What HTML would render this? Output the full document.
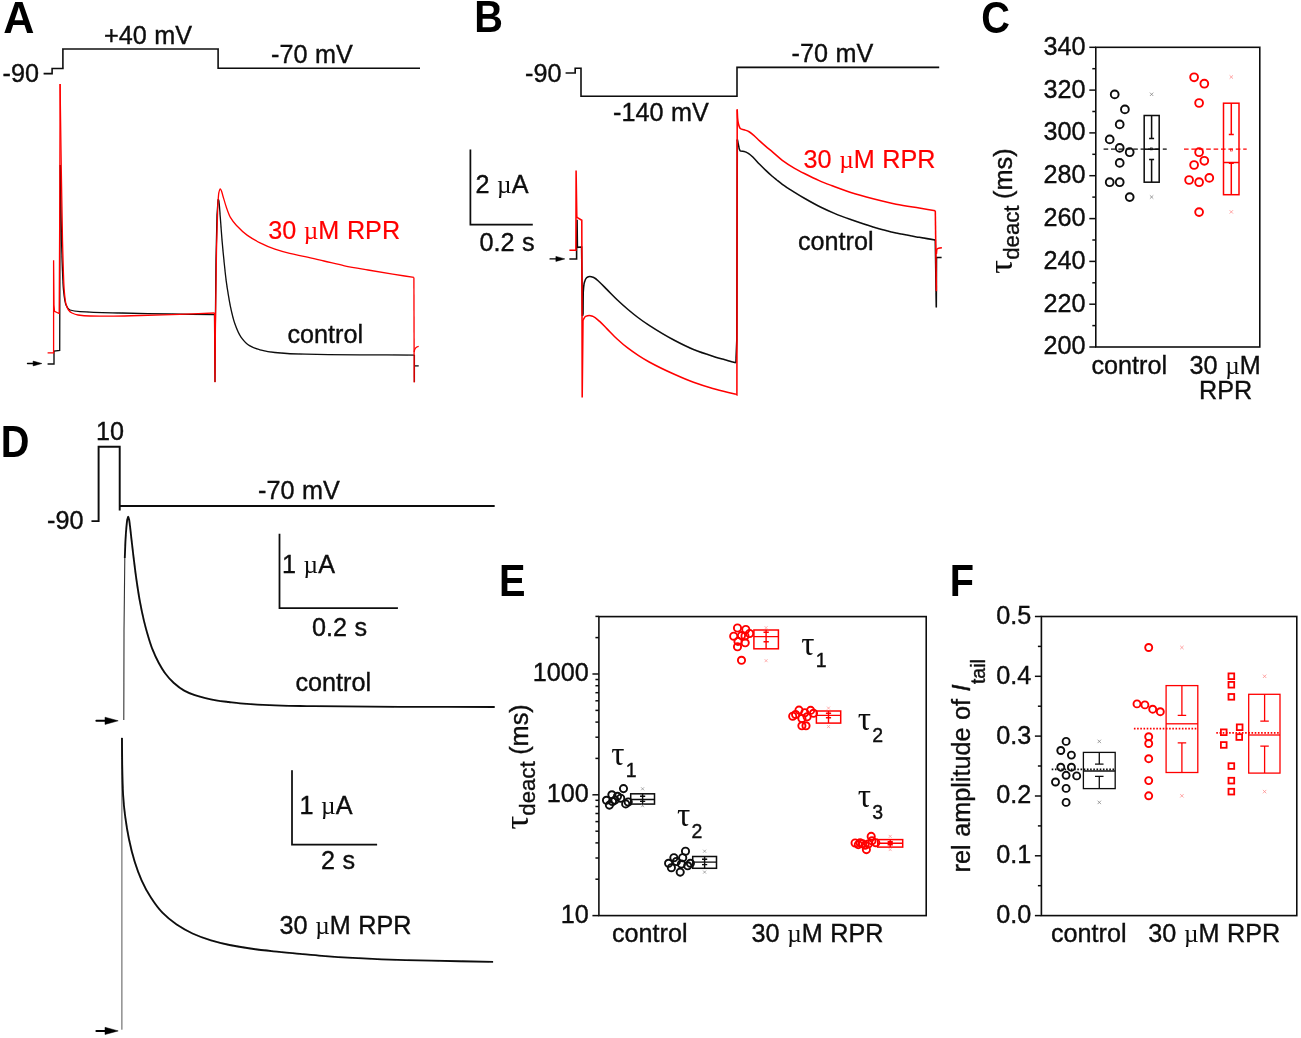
<!DOCTYPE html>
<html><head><meta charset="utf-8"><title>Figure</title>
<style>
html,body{margin:0;padding:0;background:#fff;}
svg{display:block;}
text{font-family:"Liberation Sans",sans-serif;stroke-width:0.35px;paint-order:stroke;word-spacing:0.6px;}
.sy{font-family:"Liberation Serif",serif;stroke-width:0;}
</style></head><body>
<svg width="1301" height="1038" viewBox="0 0 1301 1038">
<defs><filter id="soft" x="0" y="0" width="1301" height="1038" filterUnits="userSpaceOnUse"><feGaussianBlur stdDeviation="0.4"/></filter></defs>
<rect width="1301" height="1038" fill="#ffffff"/>
<g filter="url(#soft)">
<text transform="translate(3.30 32.60) scale(1.000 1.045)" font-size="43.2" font-weight="bold" fill="#000">A</text>
<text transform="translate(474.24 32.30) scale(0.920 1.045)" font-size="43.2" font-weight="bold" fill="#000">B</text>
<text transform="translate(981.26 32.50) scale(0.920 1.045)" font-size="43.2" font-weight="bold" fill="#000">C</text>
<text transform="translate(0.84 457.40) scale(0.920 1.045)" font-size="43.2" font-weight="bold" fill="#000">D</text>
<text transform="translate(499.04 596.30) scale(0.920 1.045)" font-size="43.2" font-weight="bold" fill="#000">E</text>
<text transform="translate(949.84 596.30) scale(0.920 1.045)" font-size="43.2" font-weight="bold" fill="#000">F</text>
<path d="M43.6 73.6 L52.1 73.6 L52.1 68.5 L62.9 68.5 L62.9 49.0 L218.1 49.0 L218.1 68.2 L420.0 68.2" fill="none" stroke="#0a0a0a" stroke-width="1.6" />
<text x="2.5" y="82.2" font-size="25.2" fill="#0a0a0a" stroke="#0a0a0a" text-anchor="start" font-weight="normal" >-90</text>
<text x="104.0" y="44.2" font-size="25.2" fill="#0a0a0a" stroke="#0a0a0a" text-anchor="start" font-weight="normal" >+40 mV</text>
<text x="271.0" y="63.4" font-size="25.2" fill="#0a0a0a" stroke="#0a0a0a" text-anchor="start" font-weight="normal" >-70 mV</text>
<text x="268.2" y="239.2" font-size="25.2" fill="#ff0000" stroke="#ff0000" text-anchor="start" font-weight="normal"  style="stroke-width:0.2px">30 <tspan class="sy">µ</tspan>M RPR</text>
<text x="287.5" y="342.8" font-size="25.2" fill="#0a0a0a" stroke="#0a0a0a" text-anchor="start" font-weight="normal" >control</text>
<path d="M27.5 363.5 L34.1 363.5" stroke="#000" stroke-width="1.36" stroke-linecap="round" fill="none"/>
<path d="M41.9 363.5 L33.1 361.1 L33.1 365.9 Z" fill="#000" stroke="#000" stroke-width="0.5" stroke-linejoin="round"/>
<path d="M47.6 364.0 L54.0 364.0 L54.0 351.0 L59.7 350.5 L59.9 250.0 L60.3 165.0" fill="none" stroke="#0a0a0a" stroke-width="1.3" />
<path d="M60.30 165.00 C60.70 190.00 61.10 225.19 61.50 240.00 C62.17 264.69 62.83 283.40 63.50 290.00 C64.33 298.25 65.17 303.18 66.00 305.00 C67.33 307.91 68.67 309.57 70.00 310.00 C73.33 311.06 76.67 311.38 80.00 311.60 C93.33 312.48 106.67 312.66 120.00 313.00 C136.67 313.43 153.33 313.71 170.00 314.00 C184.83 314.26 199.67 314.47 214.50 314.70" fill="none" stroke="#0a0a0a" stroke-width="1.3" />
<path d="M214.5 314.7 L215.0 382.0 L215.3 330.0 L216.0 260.0 L217.0 215.0 L218.1 199.4" fill="none" stroke="#0a0a0a" stroke-width="1.3" />
<path d="M218.30 199.40 C218.47 199.73 218.63 199.89 218.80 200.40 C219.30 201.92 219.80 211.30 220.30 217.40 C220.83 223.91 221.37 232.28 221.90 238.60 C222.63 247.28 223.37 254.75 224.10 261.90 C224.80 268.73 225.50 275.57 226.20 280.90 C226.90 286.23 227.60 290.48 228.30 294.70 C229.00 298.92 229.70 303.11 230.40 306.40 C231.83 313.14 233.27 319.19 234.70 323.30 C236.80 329.32 238.90 334.16 241.00 337.10 C243.83 341.06 246.67 343.97 249.50 345.60 C253.03 347.64 256.57 348.90 260.10 349.80 C265.03 351.06 269.97 352.05 274.90 352.50 C284.93 353.42 294.97 354.00 305.00 354.20 C323.33 354.56 341.67 354.67 360.00 354.80 C378.13 354.93 396.27 355.00 414.40 355.10" fill="none" stroke="#0a0a0a" stroke-width="1.3" />
<path d="M414.4 355.1 L414.4 382.0 L414.4 365.8 L418.7 365.8" fill="none" stroke="#0a0a0a" stroke-width="1.3" />
<path d="M47.6 352.8 L53.6 352.8 L53.6 260.3 L54.0 305.0 L54.5 311.3 L59.2 313.5 L59.8 200.0 L60.1 84.0" fill="none" stroke="#ff0000" stroke-width="1.3" />
<path d="M60.10 84.00 C60.40 106.00 60.70 130.03 61.00 150.00 C61.50 183.28 62.00 220.12 62.50 240.00 C63.07 262.53 63.63 282.99 64.20 290.00 C64.80 297.42 65.40 301.73 66.00 304.00 C66.83 307.15 67.67 308.92 68.50 310.00 C69.67 311.51 70.83 312.42 72.00 313.00 C74.00 314.00 76.00 314.71 78.00 315.00 C82.00 315.57 86.00 315.92 90.00 316.00 C96.67 316.13 103.33 316.20 110.00 316.20 C120.00 316.20 130.00 315.76 140.00 315.50 C153.33 315.15 166.67 314.75 180.00 314.30 C191.53 313.91 203.07 313.43 214.60 313.00" fill="none" stroke="#ff0000" stroke-width="1.3" />
<path d="M214.6 313.0 L215.0 382.2 L215.4 330.0 L216.5 250.0 L217.8 205.0" fill="none" stroke="#ff0000" stroke-width="1.3" />
<path d="M217.80 205.00 C218.13 201.00 218.47 194.62 218.80 193.00 C219.28 190.66 219.77 188.80 220.25 188.80 C220.67 188.80 221.08 190.04 221.50 191.00 C222.00 192.16 222.50 194.50 223.00 196.20 C224.07 199.82 225.13 203.73 226.20 206.80 C227.60 210.84 229.00 214.93 230.40 217.40 C232.53 221.17 234.67 223.48 236.80 225.80 C240.33 229.64 243.87 232.88 247.40 235.40 C251.63 238.42 255.87 240.69 260.10 242.80 C265.03 245.26 269.97 247.51 274.90 249.20 C279.83 250.89 284.77 252.21 289.70 253.40 C294.80 254.63 299.90 255.48 305.00 256.60 C311.33 257.99 317.67 259.53 324.00 261.00 C330.83 262.59 337.67 264.41 344.50 265.80 C352.33 267.39 360.17 268.65 368.00 270.00 C376.23 271.42 384.47 272.78 392.70 274.10 C399.77 275.23 406.83 276.30 413.90 277.40" fill="none" stroke="#ff0000" stroke-width="1.3" />
<path d="M413.9 277.4 L414.2 382.4" fill="none" stroke="#ff0000" stroke-width="1.3" />
<path d="M414.2 352 Q414.5 347 418.7 346.3" fill="none" stroke="#ff0000" stroke-width="1.3" />
<path d="M565.6 73.0 L575.2 73.0 L575.2 68.2 L581.0 68.2 L581.0 96.3 L737.0 96.3 L737.0 67.4 L939.2 67.4" fill="none" stroke="#0a0a0a" stroke-width="1.6" />
<text x="525.0" y="81.7" font-size="25.2" fill="#0a0a0a" stroke="#0a0a0a" text-anchor="start" font-weight="normal" >-90</text>
<text x="791.5" y="61.6" font-size="25.2" fill="#0a0a0a" stroke="#0a0a0a" text-anchor="start" font-weight="normal" >-70 mV</text>
<text x="613.0" y="121.2" font-size="25.2" fill="#0a0a0a" stroke="#0a0a0a" text-anchor="start" font-weight="normal" >-140 mV</text>
<path d="M470.4 149.5 L470.4 224.6 L532.8 224.6" fill="none" stroke="#0a0a0a" stroke-width="1.7" />
<text x="475.5" y="192.6" font-size="25.2" fill="#0a0a0a" stroke="#0a0a0a" text-anchor="start" font-weight="normal" >2 <tspan class="sy">µ</tspan>A</text>
<text x="479.5" y="251.2" font-size="25.2" fill="#0a0a0a" stroke="#0a0a0a" text-anchor="start" font-weight="normal" >0.2 s</text>
<text x="803.5" y="167.6" font-size="25.2" fill="#ff0000" stroke="#ff0000" text-anchor="start" font-weight="normal"  style="stroke-width:0.2px">30 <tspan class="sy">µ</tspan>M RPR</text>
<text x="798.0" y="249.6" font-size="25.2" fill="#0a0a0a" stroke="#0a0a0a" text-anchor="start" font-weight="normal" >control</text>
<path d="M550.1 258.9 L556.9 258.9" stroke="#000" stroke-width="1.39" stroke-linecap="round" fill="none"/>
<path d="M564.8 258.9 L555.9 256.4 L555.9 261.4 Z" fill="#000" stroke="#000" stroke-width="0.5" stroke-linejoin="round"/>
<path d="M569.4 258.9 L576.6 258.9 L576.6 247.5 L577.1 219.8 L577.4 247.3 L581.6 247.0 L582.4 316.0 L583.0 314.8" fill="none" stroke="#0a0a0a" stroke-width="1.55" />
<path d="M583.00 314.80 C583.10 307.03 583.20 293.22 583.30 291.50 C583.70 284.63 584.10 283.33 584.50 282.00 C585.23 279.56 585.97 278.23 586.70 277.70 C587.73 276.96 588.77 276.40 589.80 276.40 C591.23 276.40 592.67 277.08 594.10 277.70 C595.87 278.47 597.63 280.43 599.40 282.00 C601.87 284.20 604.33 286.93 606.80 289.40 C610.33 292.93 613.87 296.66 617.40 300.00 C620.93 303.34 624.47 306.51 628.00 309.50 C631.53 312.49 635.07 315.36 638.60 318.00 C642.13 320.64 645.67 323.11 649.20 325.40 C657.57 330.83 665.93 335.88 674.30 340.30 C680.70 343.68 687.10 346.92 693.50 349.50 C699.93 352.09 706.37 354.18 712.80 356.20 C720.50 358.62 728.20 360.60 735.90 362.80" fill="none" stroke="#0a0a0a" stroke-width="1.55" />
<path d="M735.9 362.8 L736.8 340.0 L737.3 139.5" fill="none" stroke="#0a0a0a" stroke-width="1.55" />
<path d="M737.30 139.50 C737.67 141.20 738.03 142.87 738.40 144.60 C738.70 146.01 739.00 148.09 739.30 148.90 C739.70 149.98 740.10 151.03 740.50 151.10 C741.73 151.33 742.97 151.23 744.20 151.40 C745.83 151.62 747.47 152.75 749.10 153.80 C750.57 154.74 752.03 156.37 753.50 157.80 C755.53 159.79 757.57 162.22 759.60 164.30 C761.67 166.41 763.73 168.44 765.80 170.40 C767.83 172.33 769.87 174.25 771.90 176.00 C773.53 177.41 775.17 178.69 776.80 180.00 C778.63 181.46 780.47 182.98 782.30 184.30 C786.40 187.25 790.50 189.73 794.60 192.30 C798.30 194.62 802.00 196.88 805.70 199.00 C810.60 201.81 815.50 204.58 820.40 207.00 C825.27 209.40 830.13 211.61 835.00 213.60 C840.00 215.65 845.00 217.43 850.00 219.20 C857.70 221.92 865.40 224.63 873.10 226.90 C880.77 229.16 888.43 231.32 896.10 233.00 C903.80 234.68 911.50 235.95 919.20 237.30 C924.57 238.24 929.93 239.10 935.30 240.00" fill="none" stroke="#0a0a0a" stroke-width="1.55" />
<path d="M935.3 240.0 L936.3 307.4 L936.5 257.5 L941.6 257.5" fill="none" stroke="#0a0a0a" stroke-width="1.55" />
<path d="M569.4 250.3 L575.9 250.3 L576.1 170.5 L576.8 216.6 L577.5 217.8 L581.8 220.2 L582.2 397.6 L583.0 320.1" fill="none" stroke="#ff0000" stroke-width="1.55" />
<path d="M583.00 320.10 C583.87 318.87 584.73 316.81 585.60 316.40 C586.83 315.82 588.07 315.40 589.30 315.40 C590.53 315.40 591.77 315.93 593.00 316.40 C595.13 317.21 597.27 319.38 599.40 321.20 C601.87 323.31 604.33 326.13 606.80 328.60 C610.33 332.13 613.87 335.96 617.40 339.20 C620.93 342.44 624.47 345.49 628.00 348.20 C631.53 350.91 635.07 353.31 638.60 355.60 C642.13 357.89 645.67 360.06 649.20 362.00 C657.57 366.59 665.93 370.55 674.30 374.30 C680.70 377.17 687.10 379.98 693.50 382.30 C699.93 384.63 706.37 386.68 712.80 388.50 C720.50 390.68 728.20 392.37 735.90 394.30" fill="none" stroke="#ff0000" stroke-width="1.55" />
<path d="M735.9 394.3 L736.9 394.8 L737.2 109.4" fill="none" stroke="#ff0000" stroke-width="1.55" />
<path d="M737.20 109.40 C737.33 112.27 737.47 116.49 737.60 118.00 C737.87 121.02 738.13 122.69 738.40 123.70 C739.10 126.36 739.80 128.17 740.50 128.60 C741.73 129.35 742.97 129.37 744.20 129.80 C745.83 130.37 747.47 130.85 749.10 131.70 C750.57 132.46 752.03 133.86 753.50 135.10 C755.53 136.82 757.57 139.03 759.60 140.90 C761.67 142.80 763.73 144.64 765.80 146.40 C767.83 148.13 769.87 149.70 771.90 151.40 C775.37 154.30 778.83 157.73 782.30 160.30 C786.40 163.34 790.50 165.91 794.60 168.30 C797.87 170.20 801.13 171.85 804.40 173.50 C809.33 175.99 814.27 178.46 819.20 180.60 C823.30 182.38 827.40 183.93 831.50 185.50 C837.67 187.86 843.83 190.32 850.00 192.30 C857.70 194.77 865.40 196.83 873.10 198.80 C880.77 200.76 888.43 202.69 896.10 204.20 C903.80 205.71 911.50 206.83 919.20 208.10 C924.57 208.98 929.93 209.83 935.30 210.70" fill="none" stroke="#ff0000" stroke-width="1.55" />
<path d="M935.3 210.7 L936.4 291.2" fill="none" stroke="#ff0000" stroke-width="1.55" />
<path d="M936.4 254 L936.8 249.5 Q937.2 248.2 941.9 247.8" fill="none" stroke="#ff0000" stroke-width="1.55" />
<rect x="1095.8" y="47.3" width="164.0" height="299.7" fill="none" stroke="#111111" stroke-width="1.6"/>
<path d="M1089.3 47.3 L1095.8 47.3" fill="none" stroke="#111111" stroke-width="1.5" />
<text x="1085.6" y="54.7" font-size="25.2" fill="#0a0a0a" stroke="#0a0a0a" text-anchor="end" font-weight="normal" >340</text>
<path d="M1092.3 68.7 L1095.8 68.7" fill="none" stroke="#111111" stroke-width="1.5" />
<path d="M1089.3 90.1 L1095.8 90.1" fill="none" stroke="#111111" stroke-width="1.5" />
<text x="1085.6" y="97.5" font-size="25.2" fill="#0a0a0a" stroke="#0a0a0a" text-anchor="end" font-weight="normal" >320</text>
<path d="M1092.3 111.5 L1095.8 111.5" fill="none" stroke="#111111" stroke-width="1.5" />
<path d="M1089.3 132.9 L1095.8 132.9" fill="none" stroke="#111111" stroke-width="1.5" />
<text x="1085.6" y="140.3" font-size="25.2" fill="#0a0a0a" stroke="#0a0a0a" text-anchor="end" font-weight="normal" >300</text>
<path d="M1092.3 154.3 L1095.8 154.3" fill="none" stroke="#111111" stroke-width="1.5" />
<path d="M1089.3 175.7 L1095.8 175.7" fill="none" stroke="#111111" stroke-width="1.5" />
<text x="1085.6" y="183.1" font-size="25.2" fill="#0a0a0a" stroke="#0a0a0a" text-anchor="end" font-weight="normal" >280</text>
<path d="M1092.3 197.1 L1095.8 197.1" fill="none" stroke="#111111" stroke-width="1.5" />
<path d="M1089.3 218.6 L1095.8 218.6" fill="none" stroke="#111111" stroke-width="1.5" />
<text x="1085.6" y="226.0" font-size="25.2" fill="#0a0a0a" stroke="#0a0a0a" text-anchor="end" font-weight="normal" >260</text>
<path d="M1092.3 240.0 L1095.8 240.0" fill="none" stroke="#111111" stroke-width="1.5" />
<path d="M1089.3 261.4 L1095.8 261.4" fill="none" stroke="#111111" stroke-width="1.5" />
<text x="1085.6" y="268.8" font-size="25.2" fill="#0a0a0a" stroke="#0a0a0a" text-anchor="end" font-weight="normal" >240</text>
<path d="M1092.3 282.8 L1095.8 282.8" fill="none" stroke="#111111" stroke-width="1.5" />
<path d="M1089.3 304.2 L1095.8 304.2" fill="none" stroke="#111111" stroke-width="1.5" />
<text x="1085.6" y="311.6" font-size="25.2" fill="#0a0a0a" stroke="#0a0a0a" text-anchor="end" font-weight="normal" >220</text>
<path d="M1092.3 325.6 L1095.8 325.6" fill="none" stroke="#111111" stroke-width="1.5" />
<path d="M1089.3 347.0 L1095.8 347.0" fill="none" stroke="#111111" stroke-width="1.5" />
<text x="1085.6" y="354.4" font-size="25.2" fill="#0a0a0a" stroke="#0a0a0a" text-anchor="end" font-weight="normal" >200</text>
<path d="M1103.6 149.1 L1166.7 149.1" fill="none" stroke="#0a0a0a" stroke-width="1.4" stroke-dasharray="4.6 2.8"/>
<path d="M1184 149.1 L1246.7 149.1" fill="none" stroke="#ff0000" stroke-width="1.4" stroke-dasharray="4.6 2.8"/>
<circle cx="1114.7" cy="94.4" r="3.9" fill="none" stroke="#0a0a0a" stroke-width="1.9"/>
<circle cx="1124.9" cy="109.4" r="3.9" fill="none" stroke="#0a0a0a" stroke-width="1.9"/>
<circle cx="1119.7" cy="124.4" r="3.9" fill="none" stroke="#0a0a0a" stroke-width="1.9"/>
<circle cx="1109.7" cy="139.4" r="3.9" fill="none" stroke="#0a0a0a" stroke-width="1.9"/>
<circle cx="1119.7" cy="147.9" r="3.9" fill="none" stroke="#0a0a0a" stroke-width="1.9"/>
<circle cx="1129.7" cy="152.2" r="3.9" fill="none" stroke="#0a0a0a" stroke-width="1.9"/>
<circle cx="1119.7" cy="162.9" r="3.9" fill="none" stroke="#0a0a0a" stroke-width="1.9"/>
<circle cx="1109.7" cy="182.2" r="3.9" fill="none" stroke="#0a0a0a" stroke-width="1.9"/>
<circle cx="1119.7" cy="182.2" r="3.9" fill="none" stroke="#0a0a0a" stroke-width="1.9"/>
<circle cx="1129.7" cy="197.1" r="3.9" fill="none" stroke="#0a0a0a" stroke-width="1.9"/>
<circle cx="1194.1" cy="77.3" r="3.9" fill="none" stroke="#ff0000" stroke-width="1.9"/>
<circle cx="1204.3" cy="83.7" r="3.9" fill="none" stroke="#ff0000" stroke-width="1.9"/>
<circle cx="1199.1" cy="103.0" r="3.9" fill="none" stroke="#ff0000" stroke-width="1.9"/>
<circle cx="1199.1" cy="152.2" r="3.9" fill="none" stroke="#ff0000" stroke-width="1.9"/>
<circle cx="1204.3" cy="160.8" r="3.9" fill="none" stroke="#ff0000" stroke-width="1.9"/>
<circle cx="1194.1" cy="165.0" r="3.9" fill="none" stroke="#ff0000" stroke-width="1.9"/>
<circle cx="1189.1" cy="180.0" r="3.9" fill="none" stroke="#ff0000" stroke-width="1.9"/>
<circle cx="1199.1" cy="182.2" r="3.9" fill="none" stroke="#ff0000" stroke-width="1.9"/>
<circle cx="1209.3" cy="177.9" r="3.9" fill="none" stroke="#ff0000" stroke-width="1.9"/>
<circle cx="1199.1" cy="212.1" r="3.9" fill="none" stroke="#ff0000" stroke-width="1.9"/>
<rect x="1144.2" y="115.5" width="15.0" height="66.7" fill="none" stroke="#0a0a0a" stroke-width="1.5"/>
<path d="M1144.2 149.2 L1159.2 149.2" stroke="#0a0a0a" stroke-width="1.5"/>
<path d="M1151.6 115.5 L1151.6 138.5 M1149.1 138.5 L1154.1 138.5" stroke="#0a0a0a" stroke-width="1.5" fill="none"/>
<path d="M1151.6 182.2 L1151.6 159.5 M1149.1 159.5 L1154.1 159.5" stroke="#0a0a0a" stroke-width="1.5" fill="none"/>
<rect x="1150.6" y="147.9" width="2" height="2" fill="none" stroke="#0a0a0a" stroke-width="0.6"/>
<path d="M1149.9 92.6 L1153.3 96.0 M1149.9 96.0 L1153.3 92.6" stroke="#777" stroke-width="0.7" fill="none"/>
<path d="M1149.9 195.3 L1153.3 198.7 M1149.9 198.7 L1153.3 195.3" stroke="#777" stroke-width="0.7" fill="none"/>
<rect x="1223.5" y="103.2" width="15.5" height="91.5" fill="none" stroke="#ff0000" stroke-width="1.5"/>
<path d="M1223.5 162.5 L1239.0 162.5" stroke="#ff0000" stroke-width="1.5"/>
<path d="M1231.3 103.2 L1231.3 134.6 M1228.8 134.6 L1233.8 134.6" stroke="#ff0000" stroke-width="1.5" fill="none"/>
<path d="M1231.3 194.7 L1231.3 163.3 M1228.8 163.3 L1233.8 163.3" stroke="#ff0000" stroke-width="1.5" fill="none"/>
<rect x="1230.3" y="149.0" width="2" height="2" fill="none" stroke="#ff0000" stroke-width="0.6"/>
<path d="M1229.6 75.3 L1233.0 78.7 M1229.6 78.7 L1233.0 75.3" stroke="#ff8080" stroke-width="0.7" fill="none"/>
<path d="M1229.6 210.2 L1233.0 213.6 M1229.6 213.6 L1233.0 210.2" stroke="#ff8080" stroke-width="0.7" fill="none"/>
<text x="1091.5" y="373.6" font-size="25.2" fill="#0a0a0a" stroke="#0a0a0a" text-anchor="start" font-weight="normal" >control</text>
<text x="1189.5" y="373.6" font-size="25.2" fill="#0a0a0a" stroke="#0a0a0a" text-anchor="start" font-weight="normal" >30 <tspan class="sy">µ</tspan>M</text>
<text x="1199.0" y="399.1" font-size="25.2" fill="#0a0a0a" stroke="#0a0a0a" text-anchor="start" font-weight="normal" >RPR</text>
<text transform="translate(1011.8 211) rotate(-90)" text-anchor="middle" font-size="25.3" fill="#0a0a0a" stroke="#0a0a0a"><tspan class="sy" font-size="34.5">τ</tspan><tspan dy="7.4" font-size="22.2">deact</tspan><tspan dy="-7.4" dx="-1"> (ms)</tspan></text>
<path d="M91.5 521.1 L98.6 521.1 L98.6 446.7 L119.7 446.7 L119.7 510.5 L119.7 506.0 L494.7 506.0" fill="none" stroke="#0a0a0a" stroke-width="1.9" />
<text x="96.0" y="440.4" font-size="25.2" fill="#0a0a0a" stroke="#0a0a0a" text-anchor="start" font-weight="normal" >10</text>
<text x="47.0" y="528.8" font-size="25.2" fill="#0a0a0a" stroke="#0a0a0a" text-anchor="start" font-weight="normal" >-90</text>
<text x="258.0" y="498.6" font-size="25.2" fill="#0a0a0a" stroke="#0a0a0a" text-anchor="start" font-weight="normal" >-70 mV</text>
<path d="M279.5 533.7 L279.5 608.2 L397.9 608.2" fill="none" stroke="#0a0a0a" stroke-width="1.75" />
<text x="282.0" y="573.0" font-size="25.2" fill="#0a0a0a" stroke="#0a0a0a" text-anchor="start" font-weight="normal" >1 <tspan class="sy">µ</tspan>A</text>
<text x="312.0" y="635.6" font-size="25.2" fill="#0a0a0a" stroke="#0a0a0a" text-anchor="start" font-weight="normal" >0.2 s</text>
<text x="295.5" y="690.5" font-size="25.2" fill="#0a0a0a" stroke="#0a0a0a" text-anchor="start" font-weight="normal" >control</text>
<path d="M96.4 720.8 L106.0 720.8" stroke="#000" stroke-width="2.05" stroke-linecap="round" fill="none"/>
<path d="M118.2 720.8 L105.0 717.2 L105.0 724.4 Z" fill="#000" stroke="#000" stroke-width="0.5" stroke-linejoin="round"/>
<path d="M123.8 719.9 L124.0 632.0 L124.8 558.0" fill="none" stroke="#333" stroke-width="1.1" />
<path d="M124.80 558.00 C125.03 552.00 125.27 544.27 125.50 540.00 C125.83 533.90 126.17 529.64 126.50 526.20 C126.77 523.45 127.03 520.72 127.30 519.50 C127.60 518.13 127.90 516.70 128.20 516.70 C128.50 516.70 128.80 518.18 129.10 519.50 C129.40 520.82 129.70 523.79 130.00 526.20 C130.40 529.42 130.80 533.30 131.20 536.80 C131.90 542.93 132.60 549.12 133.30 555.00 C134.03 561.16 134.77 567.40 135.50 572.90 C136.20 578.15 136.90 582.93 137.60 587.50 C138.30 592.07 139.00 596.57 139.70 600.40 C141.10 608.06 142.50 614.74 143.90 620.60 C145.33 626.60 146.77 631.73 148.20 636.50 C149.60 641.16 151.00 645.63 152.40 649.20 C154.53 654.63 156.67 659.06 158.80 663.00 C160.90 666.88 163.00 670.40 165.10 673.20 C167.93 676.98 170.77 680.15 173.60 682.70 C177.13 685.88 180.67 688.66 184.20 690.60 C187.73 692.54 191.27 693.99 194.80 695.20 C198.33 696.41 201.87 697.38 205.40 698.20 C208.93 699.02 212.47 699.73 216.00 700.30 C220.27 700.98 224.53 701.47 228.80 702.00 C232.53 702.46 236.27 703.00 240.00 703.30 C251.67 704.25 263.33 704.91 275.00 705.30 C287.87 705.73 300.73 706.05 313.60 706.20 C342.40 706.53 371.20 706.71 400.00 706.80 C431.57 706.90 463.13 706.93 494.70 707.00" fill="none" stroke="#0a0a0a" stroke-width="1.85" />
<path d="M121.9 737.6 L121.9 1029.7" fill="none" stroke="#555" stroke-width="1.0" />
<path d="M121.97 738.10 C122.05 746.97 122.12 760.25 122.20 764.70 C122.50 782.13 122.80 789.66 123.10 794.70 C123.87 807.58 124.63 812.06 125.40 817.90 C126.57 826.78 127.73 833.04 128.90 838.70 C130.83 848.07 132.77 855.57 134.70 861.80 C137.00 869.21 139.30 875.20 141.60 880.30 C144.70 887.17 147.80 892.80 150.90 897.60 C154.73 903.54 158.57 908.78 162.40 912.70 C167.03 917.44 171.67 921.04 176.30 924.20 C181.70 927.88 187.10 931.05 192.50 933.50 C198.67 936.30 204.83 938.56 211.00 940.40 C217.17 942.24 223.33 943.76 229.50 945.00 C236.43 946.40 243.37 947.52 250.30 948.50 C258.00 949.59 265.70 950.48 273.40 951.30 C282.27 952.24 291.13 952.98 300.00 953.80 C307.33 954.48 314.67 955.22 322.00 955.80 C332.27 956.61 342.53 957.33 352.80 957.90 C365.20 958.58 377.60 959.18 390.00 959.60 C403.73 960.06 417.47 960.39 431.20 960.70 C451.83 961.17 472.47 961.50 493.10 961.90" fill="none" stroke="#0a0a0a" stroke-width="1.85" />
<path d="M292.0 770.2 L292.0 844.7 L377.1 844.7" fill="none" stroke="#0a0a0a" stroke-width="1.75" />
<text x="299.5" y="814.1" font-size="25.2" fill="#0a0a0a" stroke="#0a0a0a" text-anchor="start" font-weight="normal" >1 <tspan class="sy">µ</tspan>A</text>
<text x="321.0" y="869.0" font-size="25.2" fill="#0a0a0a" stroke="#0a0a0a" text-anchor="start" font-weight="normal" >2 s</text>
<text x="279.5" y="933.6" font-size="25.2" fill="#0a0a0a" stroke="#0a0a0a" text-anchor="start" font-weight="normal" >30 <tspan class="sy">µ</tspan>M RPR</text>
<path d="M96.4 1030.9 L106.0 1030.9" stroke="#000" stroke-width="2.05" stroke-linecap="round" fill="none"/>
<path d="M118.2 1030.9 L105.0 1027.3 L105.0 1034.5 Z" fill="#000" stroke="#000" stroke-width="0.5" stroke-linejoin="round"/>
<rect x="598.9" y="616.6" width="327.3" height="299.0" fill="none" stroke="#111111" stroke-width="1.6"/>
<path d="M592.4 915.6 L598.9 915.6" fill="none" stroke="#111111" stroke-width="1.5" />
<text x="588.7" y="923.0" font-size="25.2" fill="#0a0a0a" stroke="#0a0a0a" text-anchor="end" font-weight="normal" >10</text>
<path d="M592.4 794.8 L598.9 794.8" fill="none" stroke="#111111" stroke-width="1.5" />
<text x="588.7" y="802.2" font-size="25.2" fill="#0a0a0a" stroke="#0a0a0a" text-anchor="end" font-weight="normal" >100</text>
<path d="M592.4 674.0 L598.9 674.0" fill="none" stroke="#111111" stroke-width="1.5" />
<text x="588.7" y="681.4" font-size="25.2" fill="#0a0a0a" stroke="#0a0a0a" text-anchor="end" font-weight="normal" >1000</text>
<path d="M595.4 879.2 L598.9 879.2" fill="none" stroke="#111111" stroke-width="1.5" />
<path d="M595.4 858.0 L598.9 858.0" fill="none" stroke="#111111" stroke-width="1.5" />
<path d="M595.4 842.9 L598.9 842.9" fill="none" stroke="#111111" stroke-width="1.5" />
<path d="M595.4 831.2 L598.9 831.2" fill="none" stroke="#111111" stroke-width="1.5" />
<path d="M595.4 821.6 L598.9 821.6" fill="none" stroke="#111111" stroke-width="1.5" />
<path d="M595.4 813.5 L598.9 813.5" fill="none" stroke="#111111" stroke-width="1.5" />
<path d="M595.4 806.5 L598.9 806.5" fill="none" stroke="#111111" stroke-width="1.5" />
<path d="M595.4 800.3 L598.9 800.3" fill="none" stroke="#111111" stroke-width="1.5" />
<path d="M595.4 758.4 L598.9 758.4" fill="none" stroke="#111111" stroke-width="1.5" />
<path d="M595.4 737.2 L598.9 737.2" fill="none" stroke="#111111" stroke-width="1.5" />
<path d="M595.4 722.1 L598.9 722.1" fill="none" stroke="#111111" stroke-width="1.5" />
<path d="M595.4 710.4 L598.9 710.4" fill="none" stroke="#111111" stroke-width="1.5" />
<path d="M595.4 700.8 L598.9 700.8" fill="none" stroke="#111111" stroke-width="1.5" />
<path d="M595.4 692.7 L598.9 692.7" fill="none" stroke="#111111" stroke-width="1.5" />
<path d="M595.4 685.7 L598.9 685.7" fill="none" stroke="#111111" stroke-width="1.5" />
<path d="M595.4 679.5 L598.9 679.5" fill="none" stroke="#111111" stroke-width="1.5" />
<path d="M595.4 637.6 L598.9 637.6" fill="none" stroke="#111111" stroke-width="1.5" />
<path d="M595.4 616.4 L598.9 616.4" fill="none" stroke="#111111" stroke-width="1.5" />
<text x="612.0" y="942.2" font-size="25.2" fill="#0a0a0a" stroke="#0a0a0a" text-anchor="start" font-weight="normal" >control</text>
<text x="751.5" y="942.2" font-size="25.2" fill="#0a0a0a" stroke="#0a0a0a" text-anchor="start" font-weight="normal" >30 <tspan class="sy">µ</tspan>M RPR</text>
<text transform="translate(527.7 766.9) rotate(-90)" text-anchor="middle" font-size="25.3" fill="#0a0a0a" stroke="#0a0a0a"><tspan class="sy" font-size="34.5">τ</tspan><tspan dy="7.4" font-size="22.2">deact</tspan><tspan dy="-7.4" dx="-1"> (ms)</tspan></text>
<text x="611.2" y="764.8" font-size="19.5" fill="#0a0a0a" stroke="#0a0a0a"><tspan class="sy" font-size="33">τ</tspan><tspan dy="12" dx="1.2">1</tspan></text>
<text x="677.0" y="825.8" font-size="19.5" fill="#0a0a0a" stroke="#0a0a0a"><tspan class="sy" font-size="33">τ</tspan><tspan dy="12" dx="1.2">2</tspan></text>
<text x="801.3" y="654.9" font-size="19.5" fill="#0a0a0a" stroke="#0a0a0a"><tspan class="sy" font-size="33">τ</tspan><tspan dy="12" dx="1.2">1</tspan></text>
<text x="857.7" y="730.2" font-size="19.5" fill="#0a0a0a" stroke="#0a0a0a"><tspan class="sy" font-size="33">τ</tspan><tspan dy="12" dx="1.2">2</tspan></text>
<text x="857.7" y="807.4" font-size="19.5" fill="#0a0a0a" stroke="#0a0a0a"><tspan class="sy" font-size="33">τ</tspan><tspan dy="12" dx="1.2">3</tspan></text>
<circle cx="737.5" cy="628.0" r="3.6" fill="none" stroke="#ff0000" stroke-width="1.9"/>
<circle cx="745.8" cy="629.5" r="3.6" fill="none" stroke="#ff0000" stroke-width="1.9"/>
<circle cx="733.7" cy="636.2" r="3.6" fill="none" stroke="#ff0000" stroke-width="1.9"/>
<circle cx="741.5" cy="635.6" r="3.6" fill="none" stroke="#ff0000" stroke-width="1.9"/>
<circle cx="749.6" cy="633.5" r="3.6" fill="none" stroke="#ff0000" stroke-width="1.9"/>
<circle cx="745.2" cy="642.8" r="3.6" fill="none" stroke="#ff0000" stroke-width="1.9"/>
<circle cx="738.0" cy="641.4" r="3.6" fill="none" stroke="#ff0000" stroke-width="1.9"/>
<circle cx="737.5" cy="646.8" r="3.6" fill="none" stroke="#ff0000" stroke-width="1.9"/>
<circle cx="741.5" cy="660.3" r="3.6" fill="none" stroke="#ff0000" stroke-width="1.9"/>
<circle cx="745.0" cy="636.0" r="3.6" fill="none" stroke="#ff0000" stroke-width="1.9"/>
<rect x="753.9" y="630.0" width="24.5" height="18.8" fill="none" stroke="#ff0000" stroke-width="1.5"/>
<path d="M753.9 636.6 L778.4 636.6 M766.1 630.0 L766.1 648.8 M763.5 632.2 L768.8 632.2 M763.5 641.8 L768.8 641.8" stroke="#ff0000" stroke-width="1.4" fill="none"/>
<path d="M764.6 626.2 L767.6 629.2 M764.6 629.2 L767.6 626.2" stroke="#ff9090" stroke-width="0.7" fill="none"/>
<path d="M764.6 659.2 L767.6 662.2 M764.6 662.2 L767.6 659.2" stroke="#ff9090" stroke-width="0.7" fill="none"/>
<circle cx="792.7" cy="716.2" r="3.6" fill="none" stroke="#ff0000" stroke-width="1.9"/>
<circle cx="799.0" cy="710.1" r="3.6" fill="none" stroke="#ff0000" stroke-width="1.9"/>
<circle cx="804.8" cy="712.7" r="3.6" fill="none" stroke="#ff0000" stroke-width="1.9"/>
<circle cx="810.6" cy="710.4" r="3.6" fill="none" stroke="#ff0000" stroke-width="1.9"/>
<circle cx="813.5" cy="713.3" r="3.6" fill="none" stroke="#ff0000" stroke-width="1.9"/>
<circle cx="801.9" cy="718.5" r="3.6" fill="none" stroke="#ff0000" stroke-width="1.9"/>
<circle cx="801.9" cy="725.8" r="3.6" fill="none" stroke="#ff0000" stroke-width="1.9"/>
<circle cx="806.0" cy="725.8" r="3.6" fill="none" stroke="#ff0000" stroke-width="1.9"/>
<circle cx="795.6" cy="714.5" r="3.6" fill="none" stroke="#ff0000" stroke-width="1.9"/>
<circle cx="807.1" cy="716.8" r="3.6" fill="none" stroke="#ff0000" stroke-width="1.9"/>
<rect x="816.4" y="711.0" width="24.3" height="12.1" fill="none" stroke="#ff0000" stroke-width="1.5"/>
<path d="M816.4 715.4 L840.7 715.4 M828.5 711.0 L828.5 723.1 M825.9 713.2 L831.1 713.2 M825.9 717.7 L831.1 717.7" stroke="#ff0000" stroke-width="1.4" fill="none"/>
<path d="M827.0 706.6 L830.0 709.6 M827.0 709.6 L830.0 706.6" stroke="#ff9090" stroke-width="0.7" fill="none"/>
<path d="M827.0 725.1 L830.0 728.1 M827.0 728.1 L830.0 725.1" stroke="#ff9090" stroke-width="0.7" fill="none"/>
<circle cx="623.5" cy="788.6" r="3.6" fill="none" stroke="#0a0a0a" stroke-width="1.9"/>
<circle cx="611.9" cy="794.8" r="3.6" fill="none" stroke="#0a0a0a" stroke-width="1.9"/>
<circle cx="606.5" cy="800.3" r="3.6" fill="none" stroke="#0a0a0a" stroke-width="1.9"/>
<circle cx="609.4" cy="805.1" r="3.6" fill="none" stroke="#0a0a0a" stroke-width="1.9"/>
<circle cx="615.0" cy="800.1" r="3.6" fill="none" stroke="#0a0a0a" stroke-width="1.9"/>
<circle cx="620.7" cy="798.2" r="3.6" fill="none" stroke="#0a0a0a" stroke-width="1.9"/>
<circle cx="625.7" cy="803.9" r="3.6" fill="none" stroke="#0a0a0a" stroke-width="1.9"/>
<circle cx="628.2" cy="802.0" r="3.6" fill="none" stroke="#0a0a0a" stroke-width="1.9"/>
<circle cx="617.5" cy="796.3" r="3.6" fill="none" stroke="#0a0a0a" stroke-width="1.9"/>
<circle cx="612.5" cy="801.5" r="3.6" fill="none" stroke="#0a0a0a" stroke-width="1.9"/>
<rect x="630.7" y="793.8" width="23.8" height="10.3" fill="none" stroke="#0a0a0a" stroke-width="1.5"/>
<path d="M630.7 799.5 L654.5 799.5 M642.6 793.8 L642.6 804.1 M640.0 796.3 L645.2 796.3 M640.0 801.4 L645.2 801.4" stroke="#0a0a0a" stroke-width="1.4" fill="none"/>
<path d="M641.1 787.3 L644.1 790.3 M641.1 790.3 L644.1 787.3" stroke="#888" stroke-width="0.7" fill="none"/>
<path d="M641.1 804.2 L644.1 807.2 M641.1 807.2 L644.1 804.2" stroke="#888" stroke-width="0.7" fill="none"/>
<circle cx="685.5" cy="851.2" r="3.6" fill="none" stroke="#0a0a0a" stroke-width="1.9"/>
<circle cx="673.9" cy="857.7" r="3.6" fill="none" stroke="#0a0a0a" stroke-width="1.9"/>
<circle cx="682.7" cy="857.7" r="3.6" fill="none" stroke="#0a0a0a" stroke-width="1.9"/>
<circle cx="668.6" cy="863.3" r="3.6" fill="none" stroke="#0a0a0a" stroke-width="1.9"/>
<circle cx="676.4" cy="861.5" r="3.6" fill="none" stroke="#0a0a0a" stroke-width="1.9"/>
<circle cx="671.4" cy="867.7" r="3.6" fill="none" stroke="#0a0a0a" stroke-width="1.9"/>
<circle cx="680.2" cy="872.1" r="3.6" fill="none" stroke="#0a0a0a" stroke-width="1.9"/>
<circle cx="687.7" cy="865.8" r="3.6" fill="none" stroke="#0a0a0a" stroke-width="1.9"/>
<circle cx="690.4" cy="863.3" r="3.6" fill="none" stroke="#0a0a0a" stroke-width="1.9"/>
<circle cx="681.4" cy="864.0" r="3.6" fill="none" stroke="#0a0a0a" stroke-width="1.9"/>
<rect x="692.7" y="856.5" width="23.8" height="11.8" fill="none" stroke="#0a0a0a" stroke-width="1.5"/>
<path d="M692.7 862.1 L716.5 862.1 M704.6 856.5 L704.6 868.3 M702.0 859.3 L707.2 859.3 M702.0 864.6 L707.2 864.6" stroke="#0a0a0a" stroke-width="1.4" fill="none"/>
<path d="M703.1 849.7 L706.1 852.7 M703.1 852.7 L706.1 849.7" stroke="#888" stroke-width="0.7" fill="none"/>
<path d="M703.1 870.6 L706.1 873.6 M703.1 873.6 L706.1 870.6" stroke="#888" stroke-width="0.7" fill="none"/>
<circle cx="871.2" cy="836.4" r="3.6" fill="none" stroke="#ff0000" stroke-width="1.9"/>
<circle cx="855.1" cy="843.0" r="3.6" fill="none" stroke="#ff0000" stroke-width="1.9"/>
<circle cx="858.3" cy="844.6" r="3.6" fill="none" stroke="#ff0000" stroke-width="1.9"/>
<circle cx="862.6" cy="843.7" r="3.6" fill="none" stroke="#ff0000" stroke-width="1.9"/>
<circle cx="866.4" cy="849.6" r="3.6" fill="none" stroke="#ff0000" stroke-width="1.9"/>
<circle cx="868.3" cy="844.0" r="3.6" fill="none" stroke="#ff0000" stroke-width="1.9"/>
<circle cx="875.8" cy="842.7" r="3.6" fill="none" stroke="#ff0000" stroke-width="1.9"/>
<circle cx="872.0" cy="840.8" r="3.6" fill="none" stroke="#ff0000" stroke-width="1.9"/>
<circle cx="860.1" cy="842.7" r="3.6" fill="none" stroke="#ff0000" stroke-width="1.9"/>
<circle cx="865.1" cy="845.2" r="3.6" fill="none" stroke="#ff0000" stroke-width="1.9"/>
<rect x="877.7" y="839.6" width="25.0" height="7.5" fill="none" stroke="#ff0000" stroke-width="1.5"/>
<path d="M877.7 843.3 L902.7 843.3 M890.2 839.6 L890.2 847.1 M887.6 841.8 L892.8 841.8 M887.6 844.8 L892.8 844.8" stroke="#ff0000" stroke-width="1.4" fill="none"/>
<path d="M888.7 834.9 L891.7 837.9 M888.7 837.9 L891.7 834.9" stroke="#ff9090" stroke-width="0.7" fill="none"/>
<path d="M888.7 848.1 L891.7 851.1 M888.7 851.1 L891.7 848.1" stroke="#ff9090" stroke-width="0.7" fill="none"/>
<rect x="1041.4" y="616.5" width="255.4" height="299.1" fill="none" stroke="#111111" stroke-width="1.6"/>
<path d="M1034.9 616.5 L1041.4 616.5" fill="none" stroke="#111111" stroke-width="1.5" />
<text x="1031.2" y="623.9" font-size="25.2" fill="#0a0a0a" stroke="#0a0a0a" text-anchor="end" font-weight="normal" >0.5</text>
<path d="M1037.9 646.4 L1041.4 646.4" fill="none" stroke="#111111" stroke-width="1.5" />
<path d="M1034.9 676.3 L1041.4 676.3" fill="none" stroke="#111111" stroke-width="1.5" />
<text x="1031.2" y="683.7" font-size="25.2" fill="#0a0a0a" stroke="#0a0a0a" text-anchor="end" font-weight="normal" >0.4</text>
<path d="M1037.9 706.2 L1041.4 706.2" fill="none" stroke="#111111" stroke-width="1.5" />
<path d="M1034.9 736.1 L1041.4 736.1" fill="none" stroke="#111111" stroke-width="1.5" />
<text x="1031.2" y="743.5" font-size="25.2" fill="#0a0a0a" stroke="#0a0a0a" text-anchor="end" font-weight="normal" >0.3</text>
<path d="M1037.9 766.0 L1041.4 766.0" fill="none" stroke="#111111" stroke-width="1.5" />
<path d="M1034.9 796.0 L1041.4 796.0" fill="none" stroke="#111111" stroke-width="1.5" />
<text x="1031.2" y="803.4" font-size="25.2" fill="#0a0a0a" stroke="#0a0a0a" text-anchor="end" font-weight="normal" >0.2</text>
<path d="M1037.9 825.9 L1041.4 825.9" fill="none" stroke="#111111" stroke-width="1.5" />
<path d="M1034.9 855.8 L1041.4 855.8" fill="none" stroke="#111111" stroke-width="1.5" />
<text x="1031.2" y="863.2" font-size="25.2" fill="#0a0a0a" stroke="#0a0a0a" text-anchor="end" font-weight="normal" >0.1</text>
<path d="M1037.9 885.7 L1041.4 885.7" fill="none" stroke="#111111" stroke-width="1.5" />
<path d="M1034.9 915.6 L1041.4 915.6" fill="none" stroke="#111111" stroke-width="1.5" />
<text x="1031.2" y="923.0" font-size="25.2" fill="#0a0a0a" stroke="#0a0a0a" text-anchor="end" font-weight="normal" >0.0</text>
<text x="1051.0" y="942.2" font-size="25.2" fill="#0a0a0a" stroke="#0a0a0a" text-anchor="start" font-weight="normal" >control</text>
<text x="1148.3" y="942.2" font-size="25.2" fill="#0a0a0a" stroke="#0a0a0a" text-anchor="start" font-weight="normal" >30 <tspan class="sy">µ</tspan>M RPR</text>
<text transform="translate(970.4 765.7) rotate(-90)" text-anchor="middle" font-size="25.2" fill="#0a0a0a" stroke="#0a0a0a">rel amplitude of <tspan font-style="italic">I</tspan><tspan dy="14.3" dx="0.3" font-size="19.6">tail</tspan></text>
<circle cx="1066.1" cy="741.4" r="3.5" fill="none" stroke="#0a0a0a" stroke-width="1.9"/>
<circle cx="1060.8" cy="750.5" r="3.5" fill="none" stroke="#0a0a0a" stroke-width="1.9"/>
<circle cx="1071.4" cy="755.1" r="3.5" fill="none" stroke="#0a0a0a" stroke-width="1.9"/>
<circle cx="1060.8" cy="767.2" r="3.5" fill="none" stroke="#0a0a0a" stroke-width="1.9"/>
<circle cx="1071.4" cy="767.2" r="3.5" fill="none" stroke="#0a0a0a" stroke-width="1.9"/>
<circle cx="1066.1" cy="775.3" r="3.5" fill="none" stroke="#0a0a0a" stroke-width="1.9"/>
<circle cx="1076.7" cy="775.9" r="3.5" fill="none" stroke="#0a0a0a" stroke-width="1.9"/>
<circle cx="1055.5" cy="782.0" r="3.5" fill="none" stroke="#0a0a0a" stroke-width="1.9"/>
<circle cx="1066.1" cy="788.4" r="3.5" fill="none" stroke="#0a0a0a" stroke-width="1.9"/>
<circle cx="1066.1" cy="802.4" r="3.5" fill="none" stroke="#0a0a0a" stroke-width="1.9"/>
<rect x="1083.4" y="752.4" width="31.8" height="36.2" fill="none" stroke="#0a0a0a" stroke-width="1.3"/>
<path d="M1083.4 771.0 L1115.2 771.0" stroke="#0a0a0a" stroke-width="1.3"/>
<path d="M1099.3 752.4 L1099.3 764.2 M1095.0 764.2 L1103.5 764.2" stroke="#0a0a0a" stroke-width="1.3" fill="none"/>
<path d="M1099.3 788.6 L1099.3 776.3 M1095.0 776.3 L1103.5 776.3" stroke="#0a0a0a" stroke-width="1.3" fill="none"/>
<path d="M1097.6 739.7 L1101.0 743.1 M1097.6 743.1 L1101.0 739.7" stroke="#777" stroke-width="0.7" fill="none"/>
<path d="M1097.6 800.7 L1101.0 804.1 M1097.6 804.1 L1101.0 800.7" stroke="#777" stroke-width="0.7" fill="none"/>
<path d="M1051.7 769.3 L1115.2 769.3" fill="none" stroke="#0a0a0a" stroke-width="1.7" stroke-dasharray="1.6 1.6"/>
<circle cx="1148.7" cy="647.5" r="3.5" fill="none" stroke="#ff0000" stroke-width="1.9"/>
<circle cx="1137.0" cy="703.9" r="3.5" fill="none" stroke="#ff0000" stroke-width="1.9"/>
<circle cx="1144.9" cy="704.9" r="3.5" fill="none" stroke="#ff0000" stroke-width="1.9"/>
<circle cx="1152.7" cy="709.2" r="3.5" fill="none" stroke="#ff0000" stroke-width="1.9"/>
<circle cx="1160.3" cy="711.7" r="3.5" fill="none" stroke="#ff0000" stroke-width="1.9"/>
<circle cx="1148.7" cy="736.7" r="3.5" fill="none" stroke="#ff0000" stroke-width="1.9"/>
<circle cx="1148.7" cy="743.5" r="3.5" fill="none" stroke="#ff0000" stroke-width="1.9"/>
<circle cx="1148.7" cy="758.7" r="3.5" fill="none" stroke="#ff0000" stroke-width="1.9"/>
<circle cx="1148.7" cy="780.6" r="3.5" fill="none" stroke="#ff0000" stroke-width="1.9"/>
<circle cx="1148.7" cy="795.8" r="3.5" fill="none" stroke="#ff0000" stroke-width="1.9"/>
<rect x="1166.1" y="685.6" width="31.7" height="86.9" fill="none" stroke="#ff0000" stroke-width="1.3"/>
<path d="M1166.1 723.8 L1197.8 723.8" stroke="#ff0000" stroke-width="1.3"/>
<path d="M1181.9 685.6 L1181.9 715.3 M1177.7 715.3 L1186.2 715.3" stroke="#ff0000" stroke-width="1.3" fill="none"/>
<path d="M1181.9 772.5 L1181.9 742.8 M1177.7 742.8 L1186.2 742.8" stroke="#ff0000" stroke-width="1.3" fill="none"/>
<path d="M1180.2 645.8 L1183.6 649.2 M1180.2 649.2 L1183.6 645.8" stroke="#ff8080" stroke-width="0.7" fill="none"/>
<path d="M1180.2 794.1 L1183.6 797.5 M1180.2 797.5 L1183.6 794.1" stroke="#ff8080" stroke-width="0.7" fill="none"/>
<path d="M1133.9 728.6 L1197.8 728.6" fill="none" stroke="#ff0000" stroke-width="1.7" stroke-dasharray="1.6 1.6"/>
<rect x="1228.5" y="673.4" width="5.7" height="5.7" fill="none" stroke="#ff0000" stroke-width="1.8"/>
<rect x="1228.5" y="681.9" width="5.7" height="5.7" fill="none" stroke="#ff0000" stroke-width="1.8"/>
<rect x="1228.5" y="694.0" width="5.7" height="5.7" fill="none" stroke="#ff0000" stroke-width="1.8"/>
<rect x="1236.8" y="724.4" width="5.7" height="5.7" fill="none" stroke="#ff0000" stroke-width="1.8"/>
<rect x="1220.9" y="729.4" width="5.7" height="5.7" fill="none" stroke="#ff0000" stroke-width="1.8"/>
<rect x="1236.4" y="734.2" width="5.7" height="5.7" fill="none" stroke="#ff0000" stroke-width="1.8"/>
<rect x="1220.9" y="742.1" width="5.7" height="5.7" fill="none" stroke="#ff0000" stroke-width="1.8"/>
<rect x="1228.5" y="763.2" width="5.7" height="5.7" fill="none" stroke="#ff0000" stroke-width="1.8"/>
<rect x="1228.5" y="777.8" width="5.7" height="5.7" fill="none" stroke="#ff0000" stroke-width="1.8"/>
<rect x="1228.5" y="788.8" width="5.7" height="5.7" fill="none" stroke="#ff0000" stroke-width="1.8"/>
<rect x="1248.7" y="694.3" width="31.3" height="78.8" fill="none" stroke="#ff0000" stroke-width="1.3"/>
<path d="M1248.7 735.0 L1280.0 735.0" stroke="#ff0000" stroke-width="1.3"/>
<path d="M1264.6 694.3 L1264.6 721.2 M1260.3 721.2 L1268.8 721.2" stroke="#ff0000" stroke-width="1.3" fill="none"/>
<path d="M1264.6 773.1 L1264.6 746.2 M1260.3 746.2 L1268.8 746.2" stroke="#ff0000" stroke-width="1.3" fill="none"/>
<path d="M1262.9 674.6 L1266.3 678.0 M1262.9 678.0 L1266.3 674.6" stroke="#ff8080" stroke-width="0.7" fill="none"/>
<path d="M1262.9 789.9 L1266.3 793.3 M1262.9 793.3 L1266.3 789.9" stroke="#ff8080" stroke-width="0.7" fill="none"/>
<path d="M1216.3 732.9 L1280 732.9" fill="none" stroke="#ff0000" stroke-width="1.7" stroke-dasharray="1.6 1.6"/>
</g>
</svg>
</body></html>
